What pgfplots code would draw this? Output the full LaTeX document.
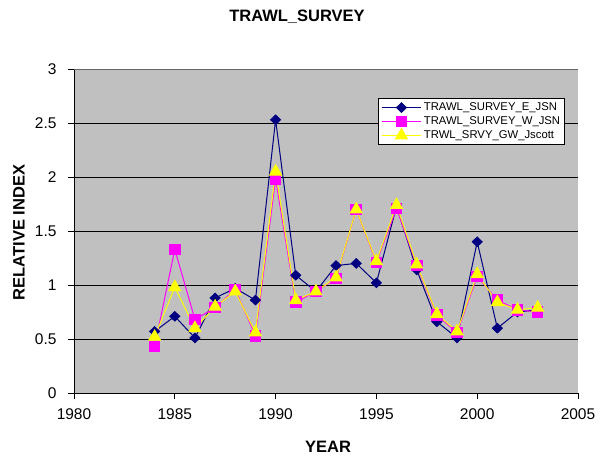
\documentclass[border=0pt]{standalone}
\usepackage{pgfplots}
\pgfplotsset{compat=1.18}
\usepackage{fontspec}
\setmainfont{Liberation Sans}
\definecolor{navyE}{RGB}{0,0,128}
\definecolor{magW}{RGB}{255,0,255}
\definecolor{yelGW}{RGB}{255,255,0}
\definecolor{plotbg}{RGB}{192,192,192}
\begin{document}
\begin{tikzpicture}
\path[use as bounding box] (-74pt,-68pt) rectangle (532pt,393pt);
\begin{axis}[
  at={(0,0)}, anchor=south west,
  scale only axis,
  width=504pt, height=324pt,
  xmin=1980, xmax=2005, ymin=0, ymax=3,
  xtick={1980,1985,...,2005},
  ytick={0,0.5,...,3},
  axis background/.style={fill=plotbg},
  axis x line*=bottom, axis y line*=left,
  tick align=outside,
  major tick length=6pt,
  tick style={black, line width=0.8pt},
  axis line style={black, line width=0.8pt},
  ymajorgrids,
  grid style={black, line width=0.6pt},
  /pgf/number format/assume math mode=true,
  /pgf/number format/1000 sep={},
  ticklabel style={font=\fontsize{15.5}{17}\selectfont},
  xticklabel style={yshift=-6pt},
  yticklabel style={xshift=-8pt},
  xlabel={\textbf{YEAR}},
  ylabel={\textbf{RELATIVE INDEX}},
  label style={font=\fontsize{16.5}{18}\selectfont},
  xlabel style={at={(0.504,0)}, anchor=center, yshift=-54pt},
  ylabel style={at={(0,0.495)}, anchor=center, yshift=55pt},
  title={\textbf{TRAWL\_SURVEY}},
  title style={font=\fontsize{16.5}{18}\selectfont, at={(0.4425,1)}, anchor=center, yshift=46.5pt},
  legend style={at={(0.6035,0.9105)}, anchor=north west, draw=black, fill=white,
    font=\fontsize{11.3}{13}\selectfont, row sep=0.5pt, inner sep=2.5pt, line width=0.8pt},
  legend cell align=left,
  legend image code/.code={%
    \draw[mark repeat=2,mark phase=2] plot coordinates {(0cm,0cm) (0.7cm,0cm) (1.4cm,0cm)};},
]
\draw[gray!80!black, line width=0.8pt] (rel axis cs:0,1) -- (rel axis cs:1,1) -- (rel axis cs:1,0);
\addplot[color=navyE, line width=1pt, mark=diamond*, mark size=4.7pt, mark options={fill=navyE, xscale=1.4}] coordinates {
(1984,0.57) (1985,0.71) (1986,0.51) (1987,0.88) (1988,0.97) (1989,0.86) (1990,2.53)
(1991,1.09) (1992,0.94) (1993,1.18) (1994,1.20) (1995,1.02) (1996,1.73) (1997,1.14)
(1998,0.66) (1999,0.51) (2000,1.40) (2001,0.60) (2002,0.75) (2003,0.77)};
\addplot[color=magW, line width=1pt, mark=square*, mark size=5.3pt, mark options={fill=magW}] coordinates {
(1984,0.43) (1985,1.33) (1986,0.68) (1987,0.79) (1988,0.96) (1989,0.53) (1990,1.98)
(1991,0.84) (1992,0.94) (1993,1.06) (1994,1.70) (1995,1.21) (1996,1.71) (1997,1.18)
(1998,0.72) (1999,0.56) (2000,1.08) (2001,0.86) (2002,0.77) (2003,0.75)};
\addplot[color=yelGW, line width=1pt, mark=triangle*, mark size=6.8pt, mark options={fill=yelGW}] coordinates {
(1984,0.52) (1985,0.98) (1986,0.60) (1987,0.80) (1988,0.94) (1989,0.56) (1990,2.05)
(1991,0.86) (1992,0.94) (1993,1.07) (1994,1.70) (1995,1.22) (1996,1.74) (1997,1.19)
(1998,0.73) (1999,0.57) (2000,1.10) (2001,0.84) (2002,0.77) (2003,0.79)};
\legend{TRAWL\_SURVEY\_E\_JSN, TRAWL\_SURVEY\_W\_JSN, TRWL\_SRVY\_GW\_Jscott}
\end{axis}
\end{tikzpicture}
\end{document}
